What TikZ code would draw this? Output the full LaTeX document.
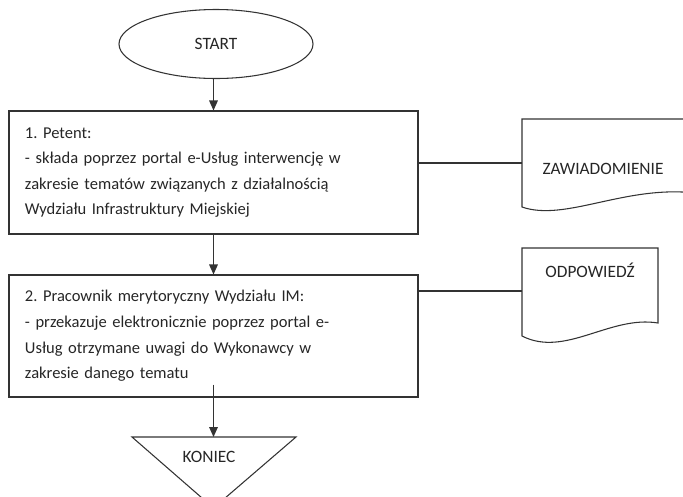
\documentclass[tikz,border=0pt]{standalone}
\usepackage{fontspec}
\setmainfont{Carlito}
\usetikzlibrary{shapes.geometric,arrows.meta}
\frenchspacing
\begin{document}
\begin{tikzpicture}[x=0.75pt,y=-0.75pt,
  line/.style={draw=black!80, line width=0.8pt},
  arr/.style={line, -{Triangle[length=7.5pt,width=6.5pt]}},
  every node/.style={text=black!85, font=\fontsize{13pt}{19.2pt}\selectfont},
  term/.style={line, ellipse, minimum width=145.5pt, minimum height=51.75pt, inner sep=0pt},
  stepbox/.style={line, rectangle, text width=282.75pt, inner xsep=12pt, inner ysep=0pt, align=left,
    font=\fontsize{12.4pt}{19.2pt}\selectfont}
]
\useasboundingbox (0,0) rectangle (683,497);
\clip (0,0) rectangle (683,497);

% terminator
\node[term] (start) at (216,44) {START};

% process steps
\node[stepbox, minimum height=92.25pt] (b1) at (213.5,172.5)
  {1. Petent:\\
   - składa poprzez portal e-Usług interwencję w\\
   zakresie tematów związanych z działalnością\\
   Wydziału Infrastruktury Miejskiej};
\node[stepbox, minimum height=91.5pt] (b2) at (213.5,336)
  {2. Pracownik merytoryczny Wydziału IM:\\
   - przekazuje elektronicznie poprzez portal e-\\
   Usług otrzymane uwagi do Wykonawcy w\\
   zakresie danego tematu};

% document shapes
\draw[line, fill=white] (522,119) -- (695,119) -- (695,193)
  .. controls (625,185) and (565,222) .. (522,207) -- cycle;
\coordinate (d1w) at (522,163);
\node (zaw) at (603,169) {ZAWIADOMIENIE};

\draw[line, fill=white] (522,248) -- (658,248) -- (658,323)
  .. controls (610,315) and (565,358) .. (522,336) -- cycle;
\coordinate (d2w) at (522,291);
\node (odp) at (590,270) {ODPOWIEDŹ};

% end terminator (downward triangle)
\draw[line] (132,437) -- (296,437) -- (213.5,508) -- cycle;
\coordinate (ktop) at (213.5,437);
\node (koniec) at (209,457) {KONIEC};

% connectors
\draw[arr] (b1.north |- start.south) -- (b1.north);
\draw[arr] (b1) -- (b2);
\draw[arr] ([yshift=9.75pt]b2.south) -- (ktop);
\draw[line] (b1.east |- d1w) -- (d1w);
\draw[line] (b2.east |- d2w) -- (d2w);
\end{tikzpicture}
\end{document}
